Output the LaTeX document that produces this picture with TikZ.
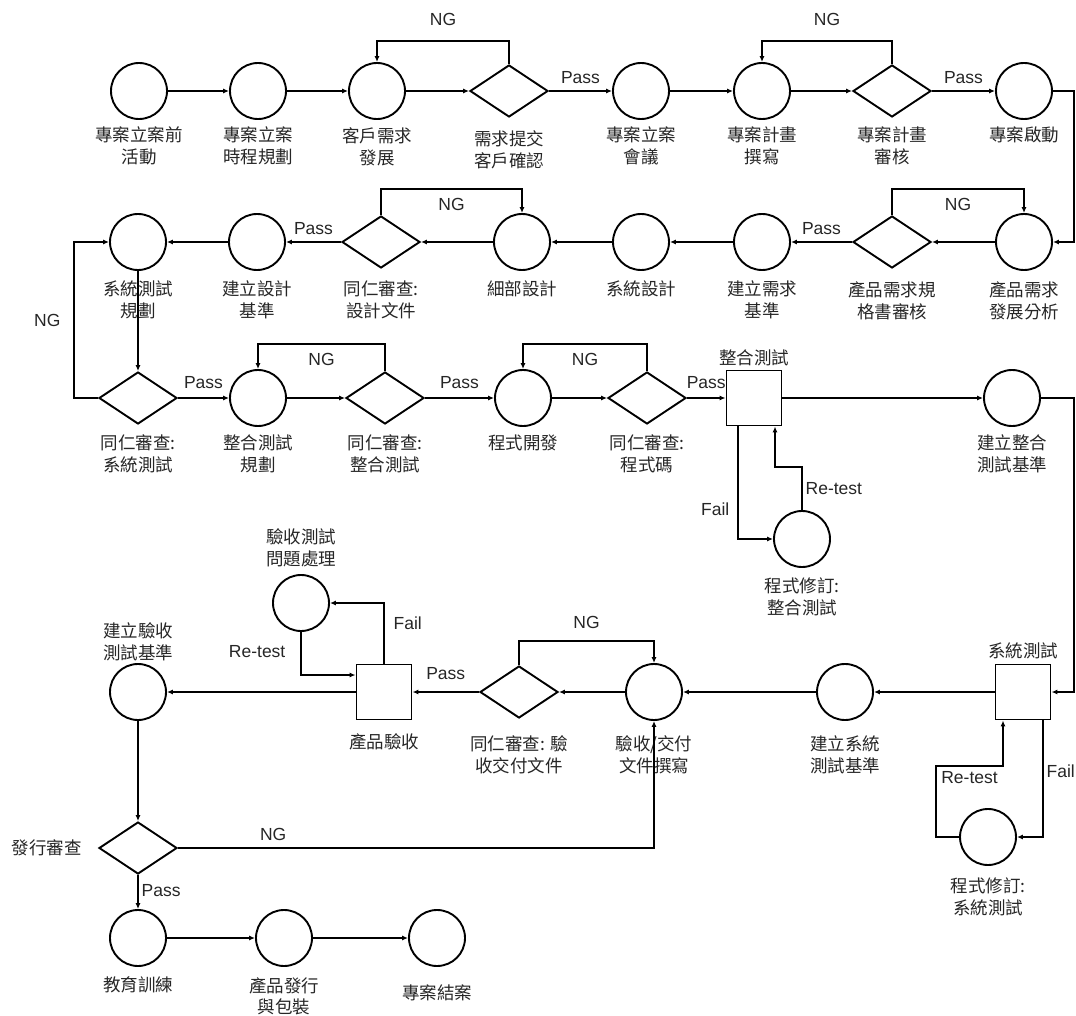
\documentclass[tikz,border=0pt]{standalone}
\usepackage{fontspec}
\newfontfamily\cjk{Noto Sans CJK TC}
\newfontfamily\lat{Liberation Sans}
\usetikzlibrary{shapes.geometric,arrows.meta}
\begin{document}
\begin{tikzpicture}[x=1pt,y=-1pt,
 circ/.style={circle,draw,line width=1.9pt,minimum size=56pt,inner sep=0pt},
 dia/.style={diamond,draw,line width=1.9pt,minimum width=78pt,minimum height=52pt,inner sep=0pt},
 sq/.style={rectangle,draw,line width=1.9pt,minimum size=55pt,inner sep=0pt},
 lab/.style={font=\cjk\fontsize{17.5}{22}\selectfont,align=center,inner sep=0pt,text=black!85},
 every label/.style={lab},
 conn/.style={line width=1.3pt,-{Latex[length=6pt,width=5pt]}},
 tag/.style={font=\lat\fontsize{17.5}{20}\selectfont,inner sep=0pt,text=black!85},
 label distance=9pt]
\useasboundingbox (0,0) rectangle (1076,1016);
% row 1
\node[circ,label={[label distance=7pt]below:{專案立案前\\活動}}] (a1) at (139,91) {};
\node[circ,label={[label distance=7pt]below:{專案立案\\時程規劃}}] (a2) at (258,91) {};
\node[circ,label={[label distance=7pt]below:{客戶需求\\發展}}] (a3) at (377,91) {};
\node[dia,label={[label distance=12pt]below:{需求提交\\客戶確認}}] (a4) at (509,91) {};
\node[circ,label={[label distance=7pt]below:{專案立案\\會議}}] (a5) at (641,91) {};
\node[circ,label={[label distance=7pt]below:{專案計畫\\撰寫}}] (a6) at (762,91) {};
\node[dia,label={[label distance=9pt]below:{專案計畫\\審核}}] (a7) at (892,91) {};
\node[circ,label={[label distance=7pt]below:{專案啟動}}] (a8) at (1024,91) {};
% row 2
\node[circ,label={[label distance=10pt]below:{產品需求\\發展分析}}] (b1) at (1024,242) {};
\node[dia,label={[label distance=12pt]below:{產品需求規\\格書審核}}] (b2) at (892,242) {};
\node[circ,label={[label distance=10pt]below:{建立需求\\基準}}] (b3) at (762,242) {};
\node[circ,label={[label distance=10pt]below:{系統設計}}] (b4) at (641,242) {};
\node[circ,label={[label distance=10pt]below:{細部設計}}] (b5) at (522,242) {};
\node[dia,label={[label distance=12pt]below:{同仁審查:\\設計文件}}] (b6) at (381,242) {};
\node[circ,label={[label distance=10pt]below:{建立設計\\基準}}] (b7) at (257,242) {};
\node[circ,label={[label distance=10pt]below:{系統測試\\規劃}}] (b8) at (138,242) {};
% row 3
\node[dia,label={[label distance=10pt]below:{同仁審查:\\系統測試}}] (c1) at (138,398) {};
\node[circ,label={[label distance=8pt]below:{整合測試\\規劃}}] (c2) at (258,398) {};
\node[dia,label={[label distance=10pt]below:{同仁審查:\\整合測試}}] (c3) at (385,398) {};
\node[circ,label={[label distance=8pt]below:{程式開發}}] (c4) at (523,398) {};
\node[dia,label={[label distance=10pt]below:{同仁審查:\\程式碼}}] (c5) at (647,398) {};
\node[sq,label={[label distance=3pt]above:{整合測試}}] (c6) at (754,398) {};
\node[circ,label={[label distance=8pt]below:{建立整合\\測試基準}}] (c7) at (1012,398) {};
\node[circ,label={[label distance=10pt]below:{程式修訂:\\整合測試}}] (c8) at (802,539) {};
% row 4
\node[sq,label={[label distance=4pt]above:{系統測試}}] (d1) at (1023,692) {};
\node[circ,label={[label distance=15pt]below:{建立系統\\測試基準}}] (d2) at (845,692) {};
\node[circ,label={[label distance=14pt]below:{驗收/交付\\文件撰寫}}] (d3) at (654,692) {};
\node[dia,label={[label distance=16pt]below:{同仁審查: 驗\\收交付文件}}] (d4) at (519,692) {};
\node[sq,label={[label distance=13pt]below:{產品驗收}}] (d5) at (384,692) {};
\node[circ,label={[label distance=2pt]above:{建立驗收\\測試基準}}] (d6) at (138,692) {};
\node[circ,label={[label distance=12pt]below:{程式修訂:\\系統測試}}] (d7) at (988,837) {};
\node[circ,label={[label distance=7pt]above:{驗收測試\\問題處理}}] (d8) at (301,603) {};
% row 5
\node[dia,label={[label distance=16pt]left:{發行審查}}] (e1) at (138,848) {};
\node[circ,label={[label distance=9pt]below:{教育訓練}}] (e2) at (138,938) {};
\node[circ,label={[label distance=10pt,lab,font=\cjk\fontsize{17.5}{21}\selectfont]below:{產品發行\\與包裝}}] (e3) at (284,938) {};
\node[circ,label={[label distance=18pt]below:{專案結案}}] (e4) at (437,938) {};
% connectors row 1
\draw[conn] (a1) -- (a2);
\draw[conn] (a2) -- (a3);
\draw[conn] (a3) -- (a4);
\draw[conn] (a4) -- node[tag,above=7pt]{Pass} (a5);
\draw[conn] (a5) -- (a6);
\draw[conn] (a6) -- (a7);
\draw[conn] (a7) -- node[tag,above=7pt]{Pass} (a8);
\draw[conn] (a4.north) -- ++(0,-23) -| node[tag,pos=0.25,above=15pt]{NG} (a3.north);
\draw[conn] (a7.north) -- ++(0,-23) -| node[tag,pos=0.25,above=15pt]{NG} (a6.north);
\draw[conn] (a8.east) -- ++(21,0) |- (b1.east);
% row 2
\draw[conn] (b1) -- (b2);
\draw[conn] (b2) -- node[tag,above=7pt]{Pass} (b3);
\draw[conn] (b3) -- (b4);
\draw[conn] (b4) -- (b5);
\draw[conn] (b5) -- (b6);
\draw[conn] (b6) -- node[tag,above=7pt]{Pass} (b7);
\draw[conn] (b7) -- (b8);
\draw[conn] (b2.north) -- ++(0,-26) -| node[tag,pos=0.25,below=9pt]{NG} (b1.north);
\draw[conn] (b6.north) -- ++(0,-26) -| node[tag,pos=0.25,below=9pt]{NG} (b5.north);
\draw[conn] (b8) -- (c1);
\draw[conn] (c1.west) -- ++(-24,0) |- node[tag,pos=0.25,left=13pt]{NG} (b8.west);
% row 3
\draw[conn] (c1) -- node[tag,above=9pt]{Pass} (c2);
\draw[conn] (c2) -- (c3);
\draw[conn] (c3) -- node[tag,above=9pt]{Pass} (c4);
\draw[conn] (c4) -- (c5);
\draw[conn] (c5) -- node[tag,above=9pt]{Pass} (c6);
\draw[conn] (c6) -- (c7);
\draw[conn] (c3.north) -- ++(0,-27) -| node[tag,pos=0.25,below=9pt]{NG} (c2.north);
\draw[conn] (c5.north) -- ++(0,-27) -| node[tag,pos=0.25,below=9pt]{NG} (c4.north);
\draw[conn] ([xshift=-16pt]c6.south) |- node[tag,pos=0.37,left=8pt]{Fail} (c8.west);
\draw[conn] (c8.north) -- node[tag,right=3pt]{Re-test} ++(0,-43) -| ([xshift=21pt]c6.south);
\draw[conn] (c7.east) -- ++(33,0) |- (d1.east);
% row 4
\draw[conn] (d1) -- (d2);
\draw[conn] (d2) -- (d3);
\draw[conn] (d3) -- (d4);
\draw[conn] (d4) -- node[tag,above=12pt]{Pass} (d5);
\draw[conn] (d5) -- (d6);
\draw[conn] (d4.north) -- ++(0,-24) -| node[tag,pos=0.25,above=12pt]{NG} (d3.north);
\draw[conn] ([xshift=20pt]d1.south) |- node[tag,pos=0.22,right=3pt]{Fail} (d7.east);
\draw[conn] (d7.west) -- ++(-23,0) -- ++(0,-71) -| node[tag,pos=0.25,below=5pt]{Re-test} ([xshift=-20pt]d1.south);
\draw[conn] (d5.north) |- node[tag,pos=0.33,right=9pt]{Fail} (d8.east);
\draw[conn] (d8.south) |- node[tag,pos=0.23,left=15pt]{Re-test} ([yshift=17pt]d5.west);
% row 5
\draw[conn] (d6) -- (e1);
\draw[conn] (e1) -- node[tag,pos=0.45,right=3pt]{Pass} (e2);
\draw[conn] (e1.east) -| node[tag,pos=0.1,above=7pt]{NG} (d3.south);
\draw[conn] (e2) -- (e3);
\draw[conn] (e3) -- (e4);
\end{tikzpicture}
\end{document}
